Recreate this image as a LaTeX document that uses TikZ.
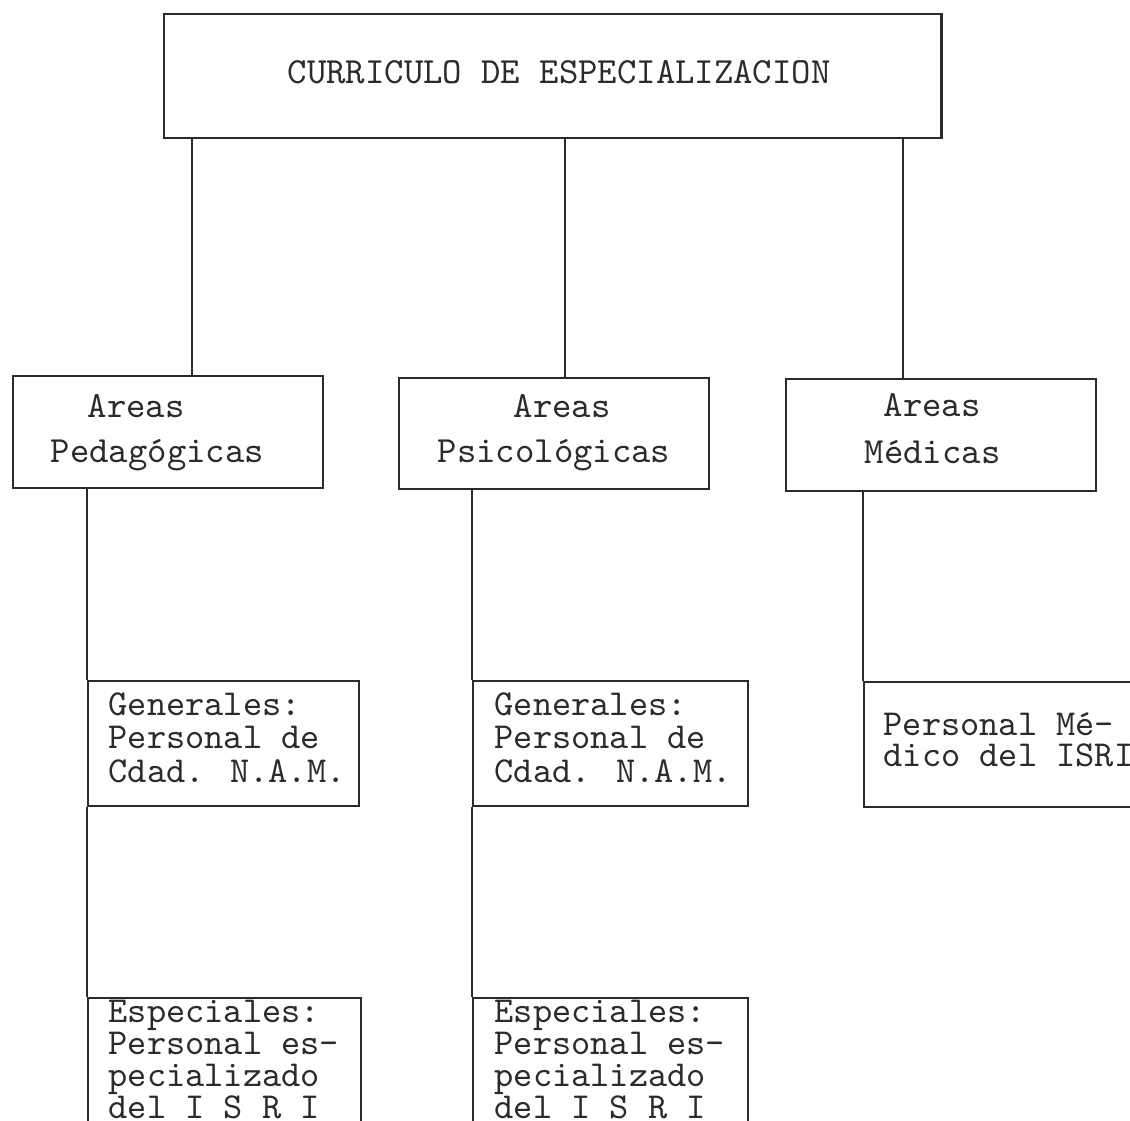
\documentclass[tikz,border=0pt]{standalone}
\usepackage{fontspec}
\newfontfamily\tw{Latin Modern Mono}
\definecolor{ink}{HTML}{2B2B2B}
\lineskiplimit=-\maxdimen
\begin{document}
\begin{tikzpicture}[x=0.01cm,y=-0.01cm,
  box/.style={draw=ink, line width=0.6pt, inner sep=0pt, anchor=north west},
  conn/.style={draw=ink, line width=0.45pt},
  label/.style={font=\tw\fontsize{10.5}{12}\selectfont, text=ink, anchor=base west, inner sep=0pt},
  lowtext/.style={text=ink, anchor=base west, inner sep=0pt, align=left},
]
\useasboundingbox (0,0) rectangle (1130,1121);
\clip (0,0) rectangle (1130,1121);
% boxes
\node[box, minimum width=7.77cm, minimum height=1.24cm] (top) at (163,13) {};
\node[box, minimum width=3.10cm, minimum height=1.12cm] (ped) at (12,375) {};
\node[box, minimum width=3.10cm, minimum height=1.11cm] (psi) at (398,377) {};
\node[box, minimum width=3.10cm, minimum height=1.12cm] (med) at (785,378) {};
\node[box, minimum width=2.71cm, minimum height=1.25cm] (gen1) at (87,680) {};
\node[box, minimum width=2.75cm, minimum height=1.25cm] (gen2) at (472,680) {};
\node[box, minimum width=3.20cm, minimum height=1.25cm] (medp) at (863,681) {};
\node[box, minimum width=2.73cm, minimum height=1.70cm] (esp1) at (87,997) {};
\node[box, minimum width=2.75cm, minimum height=1.70cm] (esp2) at (472,997) {};
% connector x positions
\coordinate (c1) at (192,0);
\coordinate (c2) at (565,0);
\coordinate (c3) at (903,0);
\draw[conn] (top.south -| c1) -- (ped.north -| c1);
\draw[conn] (top.south -| c2) -- (psi.north -| c2);
\draw[conn] (top.south -| c3) -- (med.north -| c3);
\draw[conn] (gen1.north west |- ped.south) -- (gen1.north west);
\draw[conn] (gen1.south west) -- (esp1.north west);
\draw[conn] (gen2.north west |- psi.south) -- (gen2.north west);
\draw[conn] (gen2.south west) -- (esp2.north west);
\draw[conn] (medp.north west |- med.south) -- (medp.north west);
% texts
\node[label] (ttop) at (287,83) {CURRICULO DE ESPECIALIZACION};
\node[label] (tped1) at (87,417) {Areas};
\node[label] (tped2) at (50,462) {Pedagógicas};
\node[label] (tpsi1) at (513,417) {Areas};
\node[label] (tpsi2) at (437,462) {Psicológicas};
\node[label] (tmed1) at (883,416) {Areas};
\node[label] (tmed2) at (864,463) {Médicas};
\node[lowtext, font=\tw\fontsize{10.4}{9.4}\selectfont] (tgen1) at (108,782) {Generales:\\Personal de\\Cdad. N.A.M.};
\node[lowtext, font=\tw\fontsize{10.4}{9.4}\selectfont] (tgen2) at (494,782) {Generales:\\Personal de\\Cdad. N.A.M.};
\node[lowtext, font=\tw\fontsize{10.4}{8.8}\selectfont] (tmedp) at (883,766) {Personal Mé-\\dico del ISRI};
\node[lowtext, font=\tw\fontsize{10.4}{9.1}\selectfont] (tesp1) at (108,1118) {Especiales:\\Personal es-\\pecializado\\del I S R I};
\node[lowtext, font=\tw\fontsize{10.4}{9.1}\selectfont] (tesp2) at (494,1118) {Especiales:\\Personal es-\\pecializado\\del I S R I};
\end{tikzpicture}
\end{document}
